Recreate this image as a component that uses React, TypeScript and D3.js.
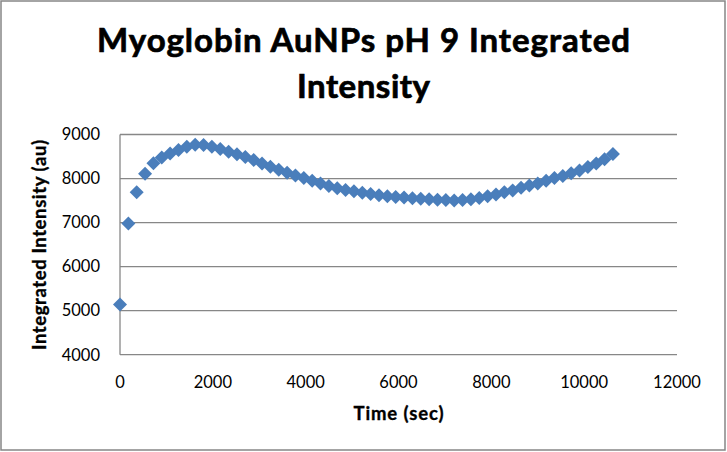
import React from "react";
import * as d3 from "d3";

const times: number[] = [
  0, 180, 360, 540, 720, 900, 1080, 1260, 1440, 1620,
  1800, 1980, 2160, 2340, 2520, 2700, 2880, 3060, 3240, 3420,
  3600, 3780, 3960, 4140, 4320, 4500, 4680, 4860, 5040, 5220,
  5400, 5580, 5760, 5940, 6120, 6300, 6480, 6660, 6840, 7020,
  7200, 7380, 7560, 7740, 7920, 8100, 8280, 8460, 8640, 8820,
  9000, 9180, 9360, 9540, 9720, 9900, 10080, 10260, 10440, 10620,
];

const intensity: number[] = [
  5140, 6980, 7690, 8110, 8350, 8480, 8570, 8650, 8720, 8770,
  8760, 8720, 8670, 8610, 8550, 8490, 8420, 8340, 8270, 8200,
  8130, 8070, 8010, 7950, 7890, 7830, 7780, 7740, 7710, 7680,
  7650, 7620, 7600, 7580, 7570, 7550, 7540, 7530, 7520, 7510,
  7500, 7510, 7530, 7560, 7600, 7640, 7690, 7730, 7790, 7840,
  7890, 7950, 8010, 8060, 8120, 8180, 8260, 8340, 8440, 8560,
];

const xTicks: number[] = [0, 2000, 4000, 6000, 8000, 10000, 12000];
const yTicks: number[] = [4000, 5000, 6000, 7000, 8000, 9000];

const titleLines: string[] = ["Myoglobin AuNPs pH 9 Integrated", "Intensity"];
const titleWidths: number[] = [533, 133];
const xTitle = "Time (sec)";
const yTitle = "Integrated Intensity (au)";

const W = 727;
const H = 452;
const FONT = "Lato, 'Open Sans', sans-serif";
const GRID = "#878787";
const BLUE = "#4A7EBB";

export default function App() {
  const x = d3.scaleLinear().domain([0, 12000]).range([120, 677]);
  const y = d3.scaleLinear().domain([4000, 9000]).range([354.7, 134.5]);
  const r = 7;
  const diamond = `M0,${-r}L${r},0L0,${r}L${-r},0Z`;

  return (
    <svg
      width={W}
      height={H}
      style={{ position: "absolute", left: 0, top: 0, background: "#fff" }}
    >
      <rect x={0} y={0} width={W} height={H} fill="#fff" />
      <rect x={1} y={1} width={724} height={449} fill="none" stroke="#868686" strokeWidth={1.5} />

      {titleLines.map((t, i) => (
        <text
          key={t}
          x={363.5}
          y={52 + i * 46}
          textAnchor="middle"
          fontFamily={FONT}
          fontWeight="bold"
          fontSize={33}
          textLength={titleWidths[i]}
          lengthAdjust="spacing"
          fill="#000"
          stroke="#000"
          strokeWidth={0.7}
        >
          {t}
        </text>
      ))}

      {yTicks.map((v) => (
        <line
          key={"g" + v}
          x1={x(0)}
          x2={x(12000)}
          y1={y(v)}
          y2={y(v)}
          stroke={GRID}
          strokeWidth={1.3}
        />
      ))}
      <line x1={x(0)} x2={x(0)} y1={y(9000)} y2={y(4000)} stroke={GRID} strokeWidth={1.3} />

      {yTicks.map((v) => (
        <text
          key={"yl" + v}
          x={100}
          y={y(v) + 5.8}
          textAnchor="end"
          fontFamily={FONT}
          fontSize={16.5}
          fill="#000"
        >
          {v}
        </text>
      ))}
      {xTicks.map((v) => (
        <text
          key={"xl" + v}
          x={x(v)}
          y={388.3}
          textAnchor="middle"
          fontFamily={FONT}
          fontSize={16.5}
          fill="#000"
        >
          {v}
        </text>
      ))}

      <text
        x={398.5}
        y={420}
        textAnchor="middle"
        fontFamily={FONT}
        fontWeight="bold"
        fontSize={18.5}
        textLength={90}
        lengthAdjust="spacing"
        fill="#000"
        stroke="#000"
        strokeWidth={0.35}
      >
        {xTitle}
      </text>
      <text
        transform={`translate(46,245) rotate(-90)`}
        textAnchor="middle"
        fontFamily={FONT}
        fontWeight="bold"
        fontSize={18.5}
        textLength={210}
        lengthAdjust="spacing"
        fill="#000"
        stroke="#000"
        strokeWidth={0.35}
      >
        {yTitle}
      </text>

      {times.map((t, i) => (
        <path
          key={"p" + i}
          d={diamond}
          transform={`translate(${x(t)},${y(intensity[i])})`}
          fill={BLUE}
        />
      ))}
    </svg>
  );
}
